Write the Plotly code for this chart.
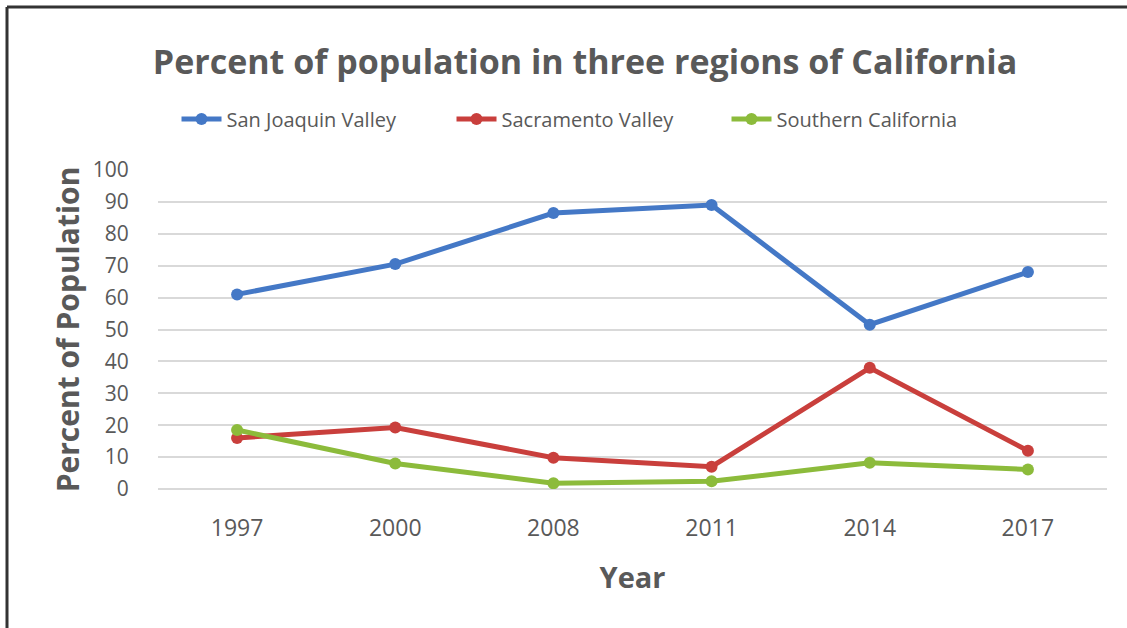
import plotly.graph_objects as go

years = ["1997", "2000", "2008", "2011", "2014", "2017"]
san_joaquin = [61, 70.5, 86.5, 89, 51.5, 68]
sacramento = [16, 19.3, 9.8, 7, 38, 12]
southern_ca = [18.5, 8, 1.8, 2.4, 8.2, 6.1]
y_ticks = list(range(0, 101, 10))

series = [
    ("San Joaquin Valley", san_joaquin, "#4478C6"),
    ("Sacramento Valley", sacramento, "#C93F3C"),
    ("Southern California", southern_ca, "#8CBB3B"),
]

FONT = "Open Sans"
GRAY = "#595959"

fig = go.Figure()
for name, vals, color in series:
    fig.add_trace(go.Scatter(
        x=years, y=vals, name=name, mode="lines+markers",
        line=dict(color=color, width=5),
        marker=dict(color=color, size=12, symbol="circle"),
    ))

fig.update_layout(
    width=1127, height=628,
    paper_bgcolor="white", plot_bgcolor="white",
    margin=dict(l=158, r=20, t=170, b=139),
    title=dict(text="<b>Percent of population in three regions of California</b>",
               x=(150 + 1020) / 2 / 1127, xanchor="center", y=1 - 62 / 628, yanchor="middle",
               font=dict(family=FONT, size=34, color=GRAY)),
    legend=dict(orientation="h", x=(186 - 158) / 949 - 0.01,
                xanchor="left", y=1.16, yanchor="middle",
                font=dict(family=FONT, size=20, color=GRAY), itemwidth=40,
                entrywidth=220, entrywidthmode="pixels",
                tracegroupgap=0),
    font=dict(family=FONT, color=GRAY),
    shapes=[
        dict(type="line", xref="paper", yref="paper",
             x0=-158 / 949 + 7 / 949, x1=1.1, y0=1 + (170 - 7) / 319, y1=1 + (170 - 7) / 319,
             line=dict(color="#333333", width=3)),
        dict(type="line", xref="paper", yref="paper",
             x0=-158 / 949 + 7 / 949, x1=-158 / 949 + 7 / 949,
             y0=1 + (170 - 7) / 319, y1=-0.6,
             line=dict(color="#333333", width=3)),
    ],
)

fig.update_xaxes(
    type="category", range=[-0.5, 5.5], showgrid=False, showline=False, zeroline=False,
    ticks="outside", ticklen=18, tickcolor="rgba(0,0,0,0)",
    tickfont=dict(family=FONT, size=23, color=GRAY),
    title=dict(text="<b>Year</b>", font=dict(family=FONT, size=29, color=GRAY), standoff=26),
)
fig.update_yaxes(
    range=[0, 100], tickvals=y_ticks, showgrid=True, gridcolor="#D9D9D9", gridwidth=1.5,
    zeroline=True, zerolinecolor="#D9D9D9", zerolinewidth=1.5, showline=False,
    ticks="outside", ticklen=24, tickcolor="rgba(0,0,0,0)",
    tickfont=dict(family=FONT, size=21, color=GRAY),
    title=dict(text="<b>Percent of Population</b>", font=dict(family=FONT, size=30, color=GRAY),
               standoff=4),
)

fig.write_html("out.html")
